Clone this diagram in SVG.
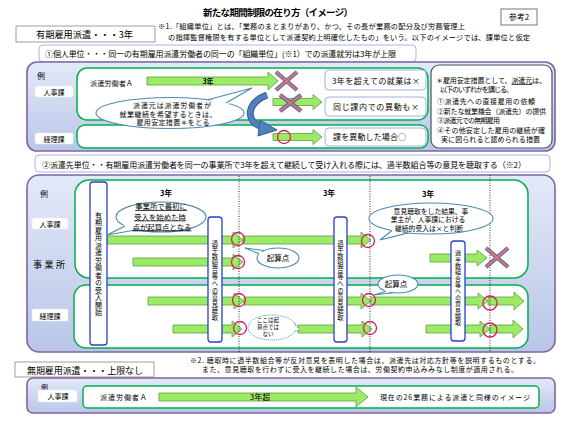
<svg xmlns="http://www.w3.org/2000/svg" width="578" height="425" viewBox="0 0 578 425">
<defs>
<linearGradient id="pg" x1="0" y1="0" x2="0" y2="1">
<stop offset="0" stop-color="#E3E9F7"/>
<stop offset="1" stop-color="#B9C6E8"/>
</linearGradient>
<marker id="chev" viewBox="0 0 6 6" refX="6" refY="3" markerWidth="5" markerHeight="5" markerUnits="userSpaceOnUse" orient="auto-start-reverse">
<path d="M0,0 L6,3 L0,6" fill="none" stroke="#333" stroke-width="0.9"/>
</marker>
</defs>
<style>
.t{font-family:'Noto Sans CJK JP','Noto Sans CJK SC',sans-serif;fill:#000}
.b{font-weight:bold}
.purple{fill:url(#pg);stroke:#8064A2;stroke-width:1.6}
.green{fill:#fff;stroke:#00B050;stroke-width:1.5}
.lbl{fill:#fff;stroke:#E6ECF7;stroke-width:0.5}
.arr{fill:#9CEB66;stroke:#5E9E3E;stroke-width:0.8}
.circ{fill:none;stroke:#D81B60;stroke-width:1.3}
.vbox{fill:#fff;stroke:#2A3FCB;stroke-width:1.3}
.call{fill:#fff;stroke:#4B8BAE;stroke-width:1.1}
.nbox{fill:#fff;stroke:#9DB4E2;stroke-width:1}
.hbox{fill:#fff;stroke:#AAB5E8;stroke-width:1}
.xo{stroke:#4F6C9F;stroke-width:4.2;stroke-linecap:butt}
.xi{stroke:#E0707A;stroke-width:2.2}
.dot{stroke:#000;stroke-width:0.8;stroke-dasharray:1 1.5}
.dim{stroke:#444;stroke-width:0.7}
.vt{writing-mode:vertical-rl}
</style>

<rect width="578" height="425" fill="#fff"/>

<g id="title">
<text class="t b" x="203" y="15.5" font-size="9.5" textLength="150">新たな期間制限の在り方（イメージ）</text>
</g>
<g id="ref2">
<rect x="501" y="9" width="36" height="16" fill="#fff" stroke="#555" stroke-width="0.8"/>
<text class="t" x="519" y="20" font-size="8" text-anchor="middle">参考2</text>
</g>
<g id="head1">
<rect x="16" y="26" width="139" height="16" fill="#fff" stroke="#888" stroke-width="0.8"/>
<text class="t" x="36" y="37.5" font-size="9.2" textLength="97">有期雇用派遣・・・3年</text>
</g>
<g id="note1">
<text class="t" x="158" y="29" font-size="7.2" textLength="307">※1.「組織単位」とは、「業務のまとまりがあり、かつ、その長が業務の配分及び労務管理上</text>
<text class="t" x="168" y="39.5" font-size="7.2" textLength="362">の指揮監督権限を有する単位として派遣契約上明確化したもの」をいう。以下のイメージでは、課単位と仮定</text>
</g>

<g id="sec1-header">
<rect class="hbox" x="39" y="45" width="377" height="17" rx="4"/>
<text class="t" x="45" y="57" font-size="8" textLength="351">①個人単位・・・同一の有期雇用派遣労働者の同一の「組織単位」(※1）での派遣就労は3年が上限</text>
</g>
<g id="sec1">
<rect class="purple" x="27" y="62" width="528" height="89" rx="10"/>
<rect class="green" x="77" y="68" width="351" height="52" rx="10"/>
<rect class="green" x="77" y="125" width="351" height="23" rx="8"/>
<text class="t" x="37" y="78.5" font-size="8">例</text>
<rect class="lbl" x="35" y="86" width="38" height="11" rx="2"/>
<text class="t" x="54" y="94.5" font-size="7" text-anchor="middle">人事課</text>
<rect class="lbl" x="35" y="133" width="38" height="11" rx="2"/>
<text class="t" x="54" y="141.5" font-size="7" text-anchor="middle">経理課</text>
</g>
<g id="s1-worker">
<text class="t" x="90" y="86" font-size="7.2" textLength="43">派遣労働者Ａ</text>
</g>
<g id="s1-box-note1">
<rect class="nbox" x="325" y="70" width="101" height="20" rx="4"/>
<text class="t" x="332" y="83.5" font-size="8" textLength="88">3年を超えての就業は×</text>
</g>
<g id="s1-box-note2">
<rect class="nbox" x="325" y="97" width="101" height="19" rx="4"/>
<text class="t" x="333" y="110" font-size="8" textLength="86">同じ課内での異動も×</text>
</g>
<g id="s1-box-note3">
<rect class="nbox" x="325" y="128" width="101" height="18" rx="4"/>
<text class="t" x="333" y="140" font-size="8" textLength="73">課を異動した場合○</text>
</g>
<g id="s1-measures">
<rect x="431" y="65" width="121" height="83" rx="8" fill="#fff" stroke="#44546A" stroke-width="1.2"/>
<text class="t" x="436" y="83" font-size="7" textLength="110">＊雇用安定措置として、<tspan text-decoration="underline">派遣元</tspan>は、</text>
<text class="t" x="440" y="92" font-size="7" textLength="73">以下のいずれかを講じる。</text>
<text class="t" x="437" y="104" font-size="7" textLength="98">①派遣先への直接雇用の依頼</text>
<text class="t" x="437" y="114" font-size="7" textLength="109">②新たな就業機会（派遣先）の提供</text>
<text class="t" x="437" y="123" font-size="7" textLength="63">③派遣元での無期雇用</text>
<text class="t" x="437" y="133" font-size="7" textLength="108">④その他安定した雇用の継続が確</text>
<text class="t" x="441" y="142" font-size="7" textLength="99">実に図られると認められる措置</text>
</g>

<g id="connectors">
<path class="arr" d="M147 77 H268 V72 L278 81 L268 90 V85 H147 Z"/>
<path class="arr" d="M273 98.5 H313 V94.5 L322 102 L313 109.5 V105.5 H273 Z"/>
<path class="arr" d="M273 133.5 H313 V129.5 L322 137 L313 144.5 V140.5 H273 Z"/>
<text class="t b" x="208" y="84" font-size="7" text-anchor="middle">3年</text>
<line class="xo" x1="276" y1="72" x2="297" y2="90"/><line class="xo" x1="297" y1="72" x2="276" y2="90"/>
<line class="xi" x1="276" y1="72" x2="297" y2="90"/><line class="xi" x1="297" y1="72" x2="276" y2="90"/>
<line class="xo" x1="280" y1="95" x2="301" y2="111"/><line class="xo" x1="301" y1="95" x2="280" y2="111"/>
<line class="xi" x1="280" y1="95" x2="301" y2="111"/><line class="xi" x1="301" y1="95" x2="280" y2="111"/>
<circle class="circ" cx="284" cy="137" r="6.5"/>
<path d="M267 95 C247 102 244 122 263 127" fill="none" stroke="#34608F" stroke-width="7"/>
<path d="M267 95 C247 102 244 122 263 127" fill="none" stroke="#4F81BD" stroke-width="5"/>
<path d="M260 120 L277 130 L258 136 Z" fill="#4F81BD" stroke="#34608F" stroke-width="1"/>

<line class="dim" x1="107" y1="186" x2="239" y2="186" marker-start="url(#chev)" marker-end="url(#chev)"/>
<line class="dim" x1="239" y1="186" x2="370" y2="186" marker-start="url(#chev)" marker-end="url(#chev)"/>
<line class="dim" x1="370" y1="186" x2="490" y2="186" marker-start="url(#chev)" marker-end="url(#chev)"/>
</g>

<g id="sec2-header">
<rect class="hbox" x="35" y="155" width="515" height="17" rx="4"/>
<text class="t" x="42" y="167.5" font-size="8" textLength="484">②派遣先単位・・有期雇用派遣労働者を同一の事業所で3年を超えて継続して受け入れる際には、過半数組合等の意見を聴取する（※2）</text>
</g>
<g id="sec2">
<rect class="purple" x="27" y="175" width="528" height="177" rx="12"/>
<rect class="green" x="75" y="180" width="453" height="98" rx="14"/>
<rect class="green" x="74" y="285" width="454" height="63" rx="12"/>
<text class="t" x="40" y="196.5" font-size="8">例</text>
<rect class="lbl" x="32" y="218" width="36" height="11" rx="2"/>
<text class="t" x="50" y="226.5" font-size="7" text-anchor="middle">人事課</text>
<text class="t" x="33" y="268" font-size="9" textLength="32">事業所</text>
<rect class="lbl" x="32" y="309" width="36" height="12" rx="2"/>
<text class="t" x="50" y="318.5" font-size="7" text-anchor="middle">経理課</text>
</g>

<g id="s2-dimlabels">
<text class="t b" x="166" y="196" font-size="7.5" text-anchor="middle">3年</text>
<text class="t b" x="329" y="196" font-size="7.5" text-anchor="middle">3年</text>
<text class="t b" x="428" y="197" font-size="7.5" text-anchor="middle">3年</text>
</g>

<g id="connectors2">
<path class="arr" d="M107 236 H233 V232 L243 240 L233 248 V244 H107 Z"/>
<path class="arr" d="M243 236 H361 V232 L371 240 L361 248 V244 H243 Z"/>
<path class="arr" d="M133 258 H233 V254 L243 262 L233 270 V266 H133 Z"/>
<path class="arr" d="M430 254 H477 V250 L487 258 L477 266 V262 H430 Z"/>
<path class="arr" d="M148 297 H234 V293 L244 301 L234 309 V305 H148 Z"/>
<path class="arr" d="M244 297 H361 V293 L371 301 L361 309 V305 H244 Z"/>
<path class="arr" d="M371 297 H478 V293 L488 301 L478 309 V305 H371 Z"/>
<path class="arr" d="M488 297 H514 V292 L524 301 L514 310 V305 H488 Z"/>
<path class="arr" d="M173 325 H232 V321 L242 329 L232 337 V333 H173 Z"/>
<path class="arr" d="M298 325 H362 V321 L372 329 L362 337 V333 H298 Z"/>
<path class="arr" d="M426 325 H480 V321 L490 329 L480 337 V333 H426 Z"/>
<path class="arr" d="M490 325 H513 V320 L523 329 L513 338 V333 H490 Z"/>
<line class="dot" x1="239" y1="176" x2="239" y2="352"/>
<line class="dot" x1="370" y1="176" x2="370" y2="352"/>
<line class="dot" x1="490" y1="175" x2="490" y2="351"/>
<circle class="circ" cx="238" cy="239" r="6.5"/>
<circle class="circ" cx="368" cy="241" r="6.5"/>
<circle class="circ" cx="238" cy="262" r="6.5"/>
<circle class="circ" cx="239" cy="300" r="6.5"/>
<circle class="circ" cx="369" cy="300" r="6.5"/>
<circle class="circ" cx="490" cy="303" r="7"/>
<circle class="circ" cx="240" cy="328" r="6.5"/>
<circle class="circ" cx="370" cy="328" r="6.5"/>
<circle class="circ" cx="490" cy="330" r="7"/>
<line class="xo" x1="486" y1="248" x2="508" y2="267"/><line class="xo" x1="508" y1="248" x2="486" y2="267"/>
<line class="xi" x1="486" y1="248" x2="508" y2="267"/><line class="xi" x1="508" y1="248" x2="486" y2="267"/>
</g>

<g id="v-start">
<rect class="vbox" x="90" y="182" width="17" height="163" rx="3"/>
<text class="t vt" x="98.5" y="211.5" font-size="7" letter-spacing="0.5">有期雇用派遣労働者の受入開始</text>
</g>
<g id="v-hear1">
<rect class="vbox" x="208" y="217" width="14" height="125" rx="3"/>
<text class="t vt" x="215" y="240" font-size="6.3" letter-spacing="0.43">過半数組合等への意見聴取</text>
</g>
<g id="v-hear2">
<rect class="vbox" x="334" y="217" width="13" height="125" rx="3"/>
<text class="t vt" x="340.5" y="240" font-size="6.3" letter-spacing="0.43">過半数組合等への意見聴取</text>
</g>
<g id="v-hear3">
<rect class="vbox" x="451" y="241" width="14" height="100" rx="3"/>
<text class="t vt" x="458" y="250" font-size="6" letter-spacing="0.36">過半数組合等への意見聴取</text>
</g>

<g id="call-s1">
<ellipse class="call" cx="170" cy="113" rx="74" ry="15.5"/>
<polygon points="207,101.8 252,88 227,105" fill="#fff"/>
<polyline points="208,99.7 252,88 226,102.9" fill="none" stroke="#4B8BAE" stroke-width="1.1"/>
<text class="t" x="172" y="108" font-size="7" text-anchor="middle" textLength="78">派遣元は派遣労働者が</text>
<text class="t" x="168" y="116.5" font-size="7" text-anchor="middle" textLength="97">就業継続を希望するときは、</text>
<text class="t" x="173" y="125" font-size="7" text-anchor="middle" textLength="73">雇用安定措置＊をとる</text>
</g>
<g id="call-first">
<ellipse class="call" cx="161" cy="217" rx="45" ry="15"/>
<polygon points="126,224 107,235 137,228" fill="#fff"/>
<polyline points="125,226 107,235 137,229.7" fill="none" stroke="#4B8BAE" stroke-width="1.1"/>
<text class="t" x="161" y="209" font-size="7.4" text-anchor="middle" text-decoration="underline">事業所で最初に</text>
<text class="t" x="160" y="219.5" font-size="7.4" text-anchor="middle" text-decoration="underline">受入を始めた時</text>
<text class="t" x="162" y="229.5" font-size="7.4" text-anchor="middle" text-decoration="underline">点が起算点となる</text>
</g>
<g id="call-kisan1">
<ellipse class="call" cx="278" cy="258" rx="21" ry="10"/>
<polygon points="264,252 245,248 260,255" fill="#fff"/>
<polyline points="264,250.5 245,248 259,253.7" fill="none" stroke="#4B8BAE" stroke-width="1.1"/>
<text class="t" x="278" y="261" font-size="7.5" text-anchor="middle">起算点</text>
</g>
<g id="call-opinion">
<ellipse class="call" cx="431" cy="218.5" rx="62" ry="15.5"/>
<polygon points="393,229 380,240 408,231" fill="#fff"/>
<polyline points="392,230.5 380,240 408,232.9" fill="none" stroke="#4B8BAE" stroke-width="1.1"/>
<text class="t" x="431" y="213.5" font-size="6.8" text-anchor="middle">意見聴取をした結果、事</text>
<text class="t" x="428" y="222" font-size="6.8" text-anchor="middle">業主が、人事課における</text>
<text class="t" x="429" y="230.5" font-size="6.8" text-anchor="middle">継続的受入は×と判断</text>
</g>
<g id="call-kisan2">
<ellipse class="call" cx="398" cy="284" rx="20" ry="9"/>
<polygon points="387,289.5 374,295 394,291" fill="#fff"/>
<polyline points="386,291.2 374,295 393,292.7" fill="none" stroke="#4B8BAE" stroke-width="1.1"/>
<text class="t" x="396" y="287" font-size="7.5" text-anchor="middle">起算点</text>
</g>
<g id="call-notstart">
<ellipse cx="272" cy="327.5" rx="24" ry="12.5" fill="#fff" stroke="#4B8BAE" stroke-width="1" stroke-dasharray="1 1"/>
<polygon points="293,324 300,330 294,330" fill="#fff"/>
<polyline points="294,322.5 300,330 295,331.1" fill="none" stroke="#4B8BAE" stroke-width="1" stroke-dasharray="1 1"/>
<text class="t" x="268" y="322" font-size="5.5" text-anchor="middle">ここは起</text>
<text class="t" x="268" y="329" font-size="5.5" text-anchor="middle">算点では</text>
<text class="t" x="268" y="335.5" font-size="5.5" text-anchor="middle">ない</text>
</g>

<g id="note2">
<text class="t" x="190" y="362.5" font-size="7" textLength="350">※2. 聴取時に過半数組合等が反対意見を表明した場合は、派遣先は対応方針等を説明するものとする。</text>
<text class="t" x="202" y="371.5" font-size="7" textLength="316">また、意見聴取を行わずに受入を継続した場合は、労働契約申込みみなし制度が適用される。</text>
</g>

<g id="head3">
<rect x="15" y="362" width="139" height="15" fill="#fff" stroke="#888" stroke-width="0.8"/>
<text class="t" x="27" y="373.5" font-size="9" textLength="116">無期雇用派遣・・・上限なし</text>
</g>
<g id="sec3">
<rect class="purple" x="27" y="378" width="528" height="35" rx="6"/>
<rect class="green" x="83" y="386" width="456" height="22" rx="4"/>
<text class="t" x="41" y="390" font-size="7">例</text>
<rect class="lbl" x="38" y="390" width="39" height="12" rx="2"/>
<text class="t" x="58" y="399" font-size="7" text-anchor="middle">人事課</text>
<text class="t" x="100" y="400" font-size="7.2" textLength="47">派遣労働者Ａ</text>
<text class="t" x="380" y="400" font-size="7" textLength="150">現在の26業務による派遣と同様のイメージ</text>
</g>
<g id="connectors3">
<path class="arr" d="M159 393 H356 V387 L368 397 L356 407 V401 H159 Z"/>
<text class="t" x="260" y="400" font-size="8" text-anchor="middle">3年超</text>
</g>
</svg>
